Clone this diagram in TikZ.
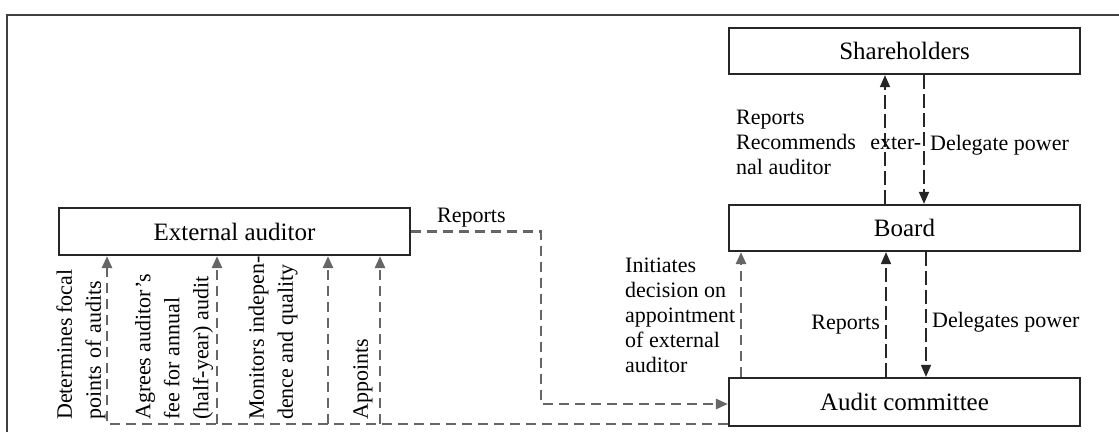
\documentclass[tikz,border=0pt]{standalone}
\usepackage{fontspec}
\setmainfont{Liberation Serif}
\usetikzlibrary{arrows.meta}
\begin{document}
\begin{tikzpicture}[x=1pt,y=-1pt,
  box/.style={draw=black!85,line width=2.2pt,minimum width=351pt,minimum height=46pt,inner sep=0pt,font=\fontsize{25}{30}\selectfont},
  lbl/.style={inner sep=0pt,font=\fontsize{22}{25}\selectfont,align=left},
  rlbl/.style={inner sep=0pt,font=\fontsize{22}{29}\selectfont,align=left,rotate=90,anchor=west},
  dg/.style={draw=black!60,line width=2.6pt,dash pattern=on 10pt off 6pt},
  dk/.style={draw=black!85,line width=1.6pt,dash pattern=on 14pt off 5pt},
  tip/.style={-{Triangle[length=12pt,width=10pt]}}]
\useasboundingbox (0,0) rectangle (1119,432);
% frame
\draw[black!75,line width=2.2pt] (7,432) -- (7,15) -- (1119,15);
% boxes
\node[box] (sh) at (904.5,51) {Shareholders};
\node[box] (bd) at (904.5,228) {Board};
\node[box,minimum height=48pt] (ac) at (904.5,402) {Audit committee};
\node[box,minimum height=47pt] (ea) at (234.5,231.5) {External auditor};
% shareholders <-> board
\draw[dk,tip] ([xshift=-19.5pt]bd.north) -- ([xshift=-19.5pt]sh.south);
\draw[dk,tip] ([xshift=19.5pt]sh.south) -- ([xshift=19.5pt]bd.north);
% board <-> audit committee
\draw[dg,tip] ([xshift=-163.5pt]ac.north) -- ([xshift=-163.5pt]bd.south);
\draw[dk,tip] ([xshift=-18.5pt]ac.north) -- ([xshift=-18.5pt]bd.south);
\draw[dk,tip] ([xshift=21.5pt]bd.south) -- ([xshift=21.5pt]ac.north);
% external auditor reports
\draw[dg,tip] (ea.east) -- ++(130,0) |- ([yshift=-2pt]ac.west);
% audit committee -> external auditor
\coordinate (bl) at ([yshift=3pt]ac.south west);
\coordinate (e1) at ([xshift=-127.5pt]ea.south);
\coordinate (e2) at ([xshift=-17.5pt]ea.south);
\coordinate (e3) at ([xshift=93.5pt]ea.south);
\coordinate (e4) at ([xshift=145.5pt]ea.south);
\draw[dg,tip] (bl) -| (e1);
\draw[dg,tip] (bl -| e2) -- (e2);
\draw[dg,tip] (bl -| e3) -- (e3);
\draw[dg,tip] (bl -| e4) -- (e4);
% rotated labels
\node[rlbl,text width=150pt] (l1) at (81,420) {Determines\hfill focal\\points of audits};
\node[rlbl] (l2) at (174,420) {Agrees auditor's\\fee for annual\\(half-year) audit};
\node[rlbl] (l3) at (273,420) {Monitors indepen-\\dence and quality};
\node[rlbl] (l4) at (363,420) {Appoints};
% other labels
\node[lbl,anchor=north west] (l5) at (736,110) {Reports\\\makebox[185pt][s]{Recommends exter-}\\nal auditor};
\node[lbl,anchor=base west] (l6) at (930,150) {Delegate power};
\node[lbl,anchor=north west] (l7) at (625,258) {Initiates\\decision on\\appointment\\of external\\auditor};
\node[lbl,anchor=base east] (l8) at (880,329) {Reports};
\node[lbl,anchor=base west] (l9) at (932,327) {Delegates power};
\node[lbl,anchor=base west] (l10) at (437,222) {Reports};
\end{tikzpicture}
\end{document}
